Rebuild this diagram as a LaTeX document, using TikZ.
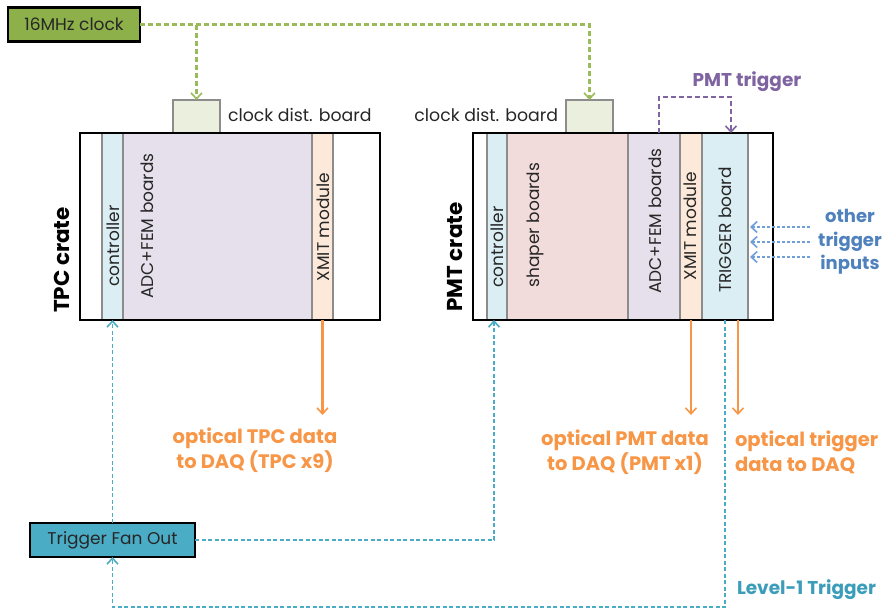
\documentclass[tikz,border=0pt]{standalone}
\usepackage{fontspec}
\setmainfont{Poppins}
\usetikzlibrary{arrows.meta}
\definecolor{clkgreen}{HTML}{8DB04A}
\definecolor{clkline}{HTML}{9BBB59}
\definecolor{cdbfill}{HTML}{EBF0DE}
\definecolor{ctrlfill}{HTML}{DBEEF4}
\definecolor{adcfill}{HTML}{E5E0EC}
\definecolor{xmitfill}{HTML}{FDE9D9}
\definecolor{shapfill}{HTML}{F2DCDB}
\definecolor{stripline}{HTML}{8C8C8C}
\definecolor{ptpurple}{HTML}{8064A2}
\definecolor{oiblue}{HTML}{4F81BD}
\definecolor{oiline}{HTML}{6F9FD8}
\definecolor{optorange}{HTML}{F79646}
\definecolor{teal}{HTML}{4BACC6}
\definecolor{tealtext}{HTML}{3C9DBA}
\tikzset{
  every node/.style={inner sep=0pt, outer sep=0pt},
  tip/.style={-{Straight Barb[length=6pt,width=11pt,line width=1.6pt]}},
  hdr/.style={draw=black, line width=2.4pt, minimum height=34pt},
  cdb/.style={draw=stripline, fill=cdbfill, line width=1.8pt, minimum width=47pt, minimum height=33pt},
  crate/.style={draw=black, fill=white, line width=2.4pt, minimum width=300pt, minimum height=187pt},
  strip/.style={draw=stripline, line width=2pt, minimum height=187pt},
  striptext/.style={rotate=90, font=\fontsize{17}{20}\selectfont, text=black!85},
  cratelabel/.style={rotate=90, font=\fontsize{21.5}{24}\selectfont\bfseries},
  plain/.style={font=\fontsize{17.3}{20}\selectfont, text=black!85},
  clkdash/.style={draw=clkline, line width=2.2pt, dash pattern=on 5pt off 3pt},
  ptdash/.style={draw=ptpurple, line width=1.8pt, dash pattern=on 5pt off 3pt},
  oidash/.style={draw=oiline, line width=1.5pt, dash pattern=on 3pt off 2pt},
  tldash/.style={draw=teal, line width=1.8pt, dash pattern=on 4pt off 2.5pt},
  optarrow/.style={draw=optorange, line width=2.2pt},
  opttext/.style={font=\fontsize{19.5}{25}\selectfont\bfseries, text=optorange},
}
\begin{document}
\begin{tikzpicture}[x=1pt,y=-1pt]
\useasboundingbox (0,0) rectangle (883,611);

% clock source
\node[hdr, fill=clkgreen, minimum width=132pt, font=\fontsize{17}{20}\selectfont, text=black!85] (clk) at (74,24.5) {16MHz clock};

% TPC crate
\node[cdb] (tcdb) at (196.5,116.5) {};
\node[plain, anchor=west] (tcdbl) at (228,115) {clock dist. board};
\node[crate] (tcrate) at (230,226.5) {};
\node[strip, fill=ctrlfill, minimum width=21pt] (tctrl) at (112.5,226.5) {};
\node[strip, fill=adcfill, minimum width=189pt] (tadc) at (217.5,226.5) {};
\node[strip, fill=xmitfill, minimum width=21pt] (txmit) at (322.5,226.5) {};
\draw[black, line width=2.4pt] (tcrate.north west) rectangle (tcrate.south east);
\node[striptext] (tctrlt) at (113,246) {controller};
\node[striptext] (tadct) at (147,226) {ADC+FEM boards};
\node[striptext] (txmitt) at (323,227) {XMIT module};
\node[cratelabel] (tcl) at (62,260) {TPC crate};

% PMT crate
\node[cdb] (pcdb) at (589.5,116.5) {};
\node[plain, anchor=east] (pcdbl) at (558,115) {clock dist. board};
\node[crate] (pcrate) at (623,226.5) {};
\node[strip, fill=ctrlfill, minimum width=20pt] (pctrl) at (497,226.5) {};
\node[strip, fill=shapfill, minimum width=121pt] (pshap) at (567.5,226.5) {};
\node[strip, fill=adcfill, minimum width=52pt] (padc) at (654,226.5) {};
\node[strip, fill=xmitfill, minimum width=22pt] (pxmit) at (691,226.5) {};
\node[strip, fill=ctrlfill, minimum width=46pt] (ptrig) at (725,226.5) {};
\draw[black, line width=2.4pt] (pcrate.north west) rectangle (pcrate.south east);
\node[striptext] (pctrlt) at (497,247) {controller};
\node[striptext] (pshapt) at (535,225) {shaper boards};
\node[striptext] (padct) at (655,221) {ADC+FEM boards};
\node[striptext] (pxmitt) at (690,226) {XMIT module};
\node[striptext] (ptrigt) at (725,230) {TRIGGER board};
\node[cratelabel] (pcl) at (455,257) {PMT crate};

% clock distribution
\draw[clkdash, tip] (clk.east) -| (pcdb.north);
\draw[clkdash, tip] (tcdb.north |- clk.east) -- (tcdb.north);

% PMT trigger
\coordinate (ptsrc) at (659,133);
\draw[ptdash, tip] (ptsrc) -- ++(0,-36) -| ([xshift=6pt]ptrig.north);
\node[font=\fontsize{18.5}{20}\selectfont\bfseries, text=ptpurple] (ptl) at (747,82) {PMT trigger};

% other trigger inputs
\coordinate (oi1) at (810,227);
\coordinate (oi2) at (810,242);
\coordinate (oi3) at (810,257);
\foreach \c in {oi1,oi2,oi3}
  \draw[oidash, tip] (\c) -- ([xshift=2pt]\c -| ptrig.east);
\node[font=\fontsize{18}{23.5}\selectfont\bfseries, text=oiblue, align=center] (oil) at (850,242) {other\\trigger\\inputs};

% optical data
\coordinate (tdaq) at (322.5,415);
\draw[optarrow, tip] (txmit.south) -- (tdaq);
\node[opttext, align=center] (tdaql) at (255,450) {optical TPC data\\to DAQ (TPC x9)};
\coordinate (pdaq) at (691,415);
\draw[optarrow, tip] (pxmit.south) -- (pdaq);
\node[opttext, align=center] (pdaql) at (625,452) {optical PMT data\\to DAQ (PMT x1)};
\coordinate (trdaq) at (738,415);
\draw[optarrow, tip] (trdaq |- ptrig.south) -- (trdaq);
\node[opttext, align=left, anchor=west] (trdaql) at (735,452) {optical trigger\\data to DAQ};

% trigger fan out
\node[hdr, fill=teal, minimum width=165pt, font=\fontsize{17}{20}\selectfont, text=black!85] (fan) at (112.5,540) {Trigger Fan Out};
\draw[tldash, tip] (fan.north) -- (fan.north |- tcrate.south);
\draw[tldash, tip] (fan.east) -| ([xshift=-3pt]pctrl.south);
\coordinate (l1) at (725,607);
\draw[tldash, tip] (l1 |- ptrig.south) -- (l1) -| (fan.south);
\node[font=\fontsize{18.5}{20}\selectfont\bfseries, text=tealtext, anchor=west] (l1l) at (737,590) {Level-1 Trigger};
\end{tikzpicture}
\end{document}
